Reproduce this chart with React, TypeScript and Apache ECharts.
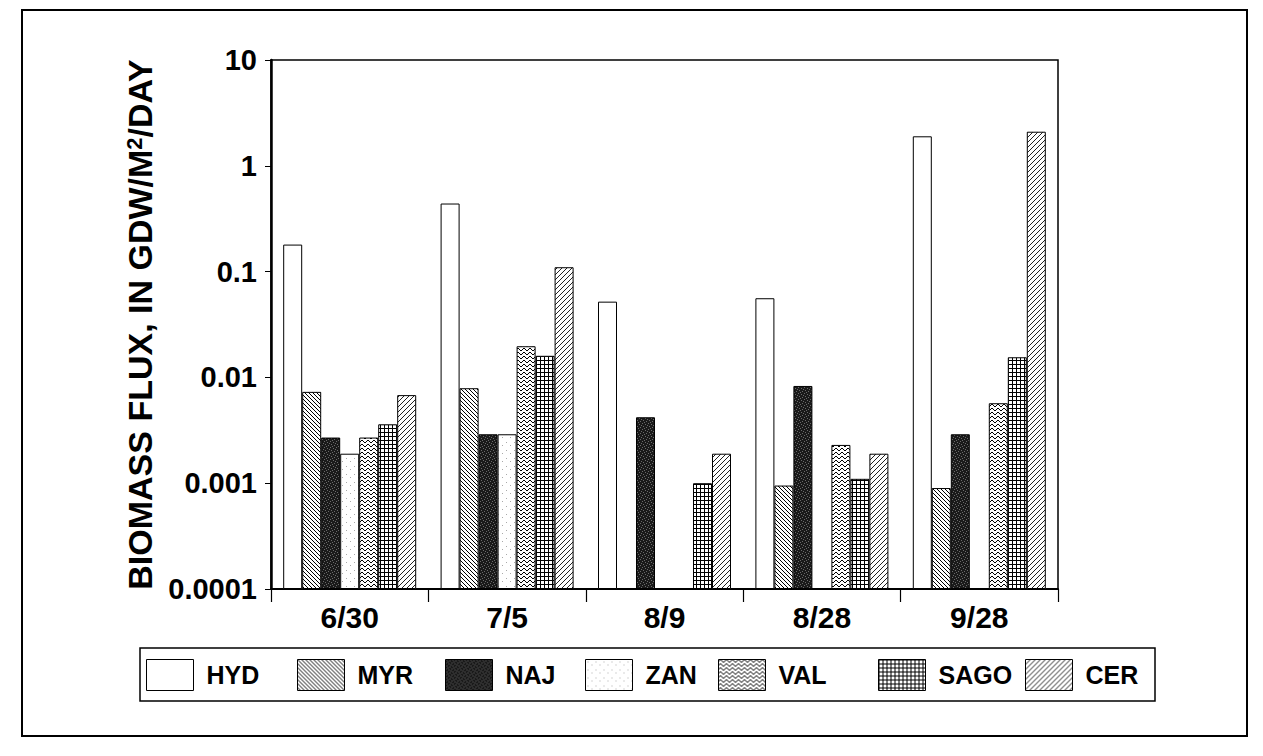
import React, { useEffect, useRef } from 'react';
import * as echarts from 'echarts';

const categories = ['6/30', '7/5', '8/9', '8/28', '9/28'];
const seriesNames = ['HYD', 'MYR', 'NAJ', 'ZAN', 'VAL', 'SAGO', 'CER'];
const hyd = [0.18, 0.44, 0.052, 0.056, 1.9];
const myr = [0.0073, 0.0079, null, 0.00095, 0.0009];
const naj = [0.0027, 0.0029, 0.0042, 0.0083, 0.0029];
const zan = [0.0019, 0.0029, null, null, null];
const val = [0.0027, 0.0197, null, 0.0023, 0.0057];
const sago = [0.0036, 0.016, 0.001, 0.0011, 0.0155];
const cer = [0.0068, 0.11, 0.0019, 0.0019, 2.1];
const yTickLabels = ['0.0001', '0.001', '0.01', '0.1', '1', '10'];

const legendLeft = [146, 297, 445, 585, 718, 878, 1025];
const FONT = "'Liberation Sans', Arial, sans-serif";

type Ctx = CanvasRenderingContext2D;
function makeCanvas(w: number, h: number, bg: string, draw: (c: Ctx) => void) {
  const c = document.createElement('canvas');
  c.width = w;
  c.height = h;
  const ctx = c.getContext('2d') as Ctx;
  ctx.fillStyle = bg;
  ctx.fillRect(0, 0, w, h);
  draw(ctx);
  return c;
}
function px(ctx: Ctx, pts: number[][], color: string) {
  ctx.fillStyle = color;
  pts.forEach(([x, y]) => ctx.fillRect(x, y, 1, 1));
}

function buildPatterns() {
  const myrC = makeCanvas(4, 4, '#fff', (c) => px(c, [[0, 0], [1, 1], [2, 2], [3, 3]], '#000'));
  const najC = makeCanvas(6, 6, '#1a1a1a', (c) => px(c, [[1, 0], [4, 1], [0, 3], [3, 4], [5, 5], [2, 2]], '#6a6a6a'));
  const zanC = makeCanvas(8, 8, '#fff', (c) => px(c, [[2, 2], [6, 5]], '#aaa'));
  const valC = makeCanvas(6, 4, '#fff', (c) => px(c, [[0, 1], [1, 0], [2, 0], [3, 1], [4, 2], [5, 2]], '#000'));
  const sagoC = makeCanvas(4, 4, '#fff', (c) => {
    c.fillStyle = '#000';
    c.fillRect(0, 0, 4, 1);
    c.fillRect(0, 0, 1, 4);
  });
  const cerC = makeCanvas(5, 5, '#fff', (c) => px(c, [[4, 0], [3, 1], [2, 2], [1, 3], [0, 4]], '#222'));
  const pat = (cv: HTMLCanvasElement) => ({ image: cv, repeat: 'repeat' });
  return ['#ffffff', pat(myrC), pat(najC), pat(zanC), pat(valC), pat(sagoC), pat(cerC)];
}

export default function App() {
  const ref = useRef<HTMLDivElement>(null);
  useEffect(() => {
    if (!ref.current) return;
    const chart = echarts.init(ref.current, null, { renderer: 'svg' });
    const fills = buildPatterns();
    const values = [hyd, myr, naj, zan, val, sago, cer];
    const option: any = {
      animation: false,
      backgroundColor: '#fff',
      grid: {
        left: 271,
        right: 205,
        top: 60,
        bottom: 167,
        show: true,
        borderColor: '#000',
        borderWidth: 1.5,
      },
      legend: seriesNames.map((n, i) => ({
        data: [n],
        left: legendLeft[i],
        top: 659,
        padding: 0,
        icon: 'rect',
        itemWidth: 47,
        itemHeight: 31,
        selectedMode: false,
        itemStyle: { borderColor: '#000', borderWidth: 1 },
        textStyle: {
          fontFamily: FONT,
          fontSize: 25,
          fontWeight: 'bold',
          color: '#000',
          padding: [0, 0, 0, 8],
        },
      })),
      xAxis: {
        type: 'category',
        data: categories,
        axisLine: { lineStyle: { color: '#000', width: 2 } },
        axisTick: { show: true, length: 13, lineStyle: { color: '#000', width: 1.2 } },
        axisLabel: {
          margin: 13,
          fontFamily: FONT,
          fontSize: 30,
          fontWeight: 'bold',
          color: '#000',
        },
        splitLine: { show: false },
      },
      yAxis: {
        type: 'log',
        logBase: 10,
        min: 0.0001,
        max: 10,
        startValue: 0.0001,
        name: 'BIOMASS FLUX, IN GDW/M{sup|2}/DAY',
        nameLocation: 'middle',
        nameGap: 74,
        nameRotate: 90,
        nameTextStyle: {
          fontFamily: FONT,
          fontSize: 34,
          fontWeight: 'bold',
          color: '#000',
          rich: {
            sup: { fontFamily: FONT, fontSize: 22, fontWeight: 'bold', color: '#000', verticalAlign: 'top' },
          },
        },
        axisLine: { show: true, lineStyle: { color: '#000', width: 2.5 } },
        axisTick: { show: true, length: 6, lineStyle: { color: '#000', width: 1 } },
        axisLabel: {
          margin: 14,
          fontFamily: FONT,
          fontSize: 29,
          fontWeight: 'bold',
          color: '#000',
          formatter: (v: number) => yTickLabels[Math.round(Math.log10(v)) + 4] ?? '',
        },
        splitLine: { show: false },
      },
      series: seriesNames.map((n, i) => ({
        name: n,
        type: 'bar',
        data: values[i],
        barWidth: 19,
        barGap: '0%',
        itemStyle: { color: fills[i], borderColor: '#000', borderWidth: 1 },
        emphasis: { disabled: true },
      })),
      graphic: [
        {
          type: 'rect',
          shape: { x: 22, y: 10, width: 1225, height: 726 },
          style: { fill: 'none', stroke: '#000', lineWidth: 2 },
          silent: true,
        },
        {
          type: 'rect',
          shape: { x: 140, y: 648, width: 1015, height: 53 },
          style: { fill: 'none', stroke: '#000', lineWidth: 1.5 },
          silent: true,
        },
      ],
    };
    chart.setOption(option);
    return () => chart.dispose();
  }, []);
  return (
    <div
      ref={ref}
      style={{ position: 'fixed', left: 0, top: 0, width: 1263, height: 756, background: '#fff' }}
    />
  );
}
